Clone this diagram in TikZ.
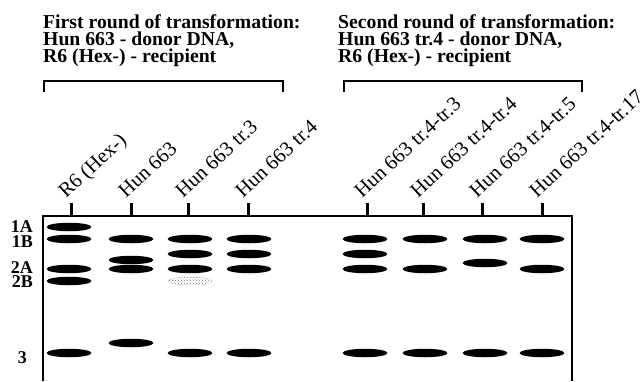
\documentclass[tikz,border=0pt]{standalone}
\usepackage{fontspec}
\setmainfont{Liberation Serif}
\usetikzlibrary{shapes.geometric,patterns}
\tikzset{
  hdr/.style={anchor=base west,inner sep=0pt,font=\fontsize{19.7}{19.7}\selectfont\bfseries},
  rowlab/.style={anchor=base east,inner sep=0pt,font=\fontsize{18}{18}\selectfont\bfseries},
  lanelab/.style={anchor=base west,inner sep=0pt,rotate=43,font=\fontsize{20.5}{20.5}\selectfont},
  band/.style={ellipse,fill=black,inner sep=0pt,minimum width=45pt,minimum height=8.5pt},
  faint/.style={ellipse,inner sep=0pt,minimum width=44pt,minimum height=8pt,pattern=crosshatch dots,pattern color=gray,draw=gray!70,densely dotted,line width=0.5pt},
  bracket/.style={line width=2.8pt},
  gel/.style={line width=2pt},
  tick/.style={line width=3pt}
}
\begin{document}
\begin{tikzpicture}[x=1pt,y=-1pt]
\useasboundingbox (0,0) rectangle (640,381);
% headers
\node[hdr] (h1a) at (43,28) {First round of transformation:};
\node[hdr] (h1b) at (43,45) {Hun 663 - donor DNA,};
\node[hdr] (h1c) at (43,62) {R6 (Hex-) - recipient};
\node[hdr] (h2a) at (338,28) {Second round of transformation:};
\node[hdr] (h2b) at (338,45) {Hun 663 tr.4 - donor DNA,};
\node[hdr] (h2c) at (338,62) {R6 (Hex-) - recipient};
% brackets
\draw[bracket] (44,92) -- (44,81) -- (283,81) -- (283,92);
\draw[bracket] (344,92) -- (344,81) -- (582,81) -- (582,92);
% gel frame
\draw[gel] (43,381) -- (43,216) -- (572,216) -- (572,381);
% ticks and lane labels
\foreach \x/\n/\t in {71/l1/{R6 (Hex-)},131/l2/{Hun 663},188/l3/{Hun 663 tr.3},248/l4/{Hun 663 tr.4},367/l5/{Hun 663 tr.4-tr.3},423/l6/{Hun 663 tr.4-tr.4},482/l7/{Hun 663 tr.4-tr.5},542/l8/{Hun 663 tr.4-tr.17}}{
  \draw[tick] (\x,203) -- (\x,216);
  \node[lanelab] (\n) at (\x-5,199) {\t};
}
% row labels
\node[rowlab] (r1a) at (33,232) {1A};
\node[rowlab] (r1b) at (33,247) {1B};
\node[rowlab] (r2a) at (33,273) {2A};
\node[rowlab] (r2b) at (33,287) {2B};
\node[rowlab] (r3) at (27,363) {3};
% bands
\foreach \x/\ys [count=\i] in {69/{227,239,269,281,353},131/{239,260,269,343},190/{239,254,269,353},249/{239,254,269,353},365/{239,254,269,353},425/{239,269,353},485/{239,263,353},542/{239,269,353}}{
  \foreach \y [count=\j] in \ys {
    \node[band] (b\i-\j) at (\x,\y) {};
  }
}
\node[faint] (bf) at (190,281) {};
\end{tikzpicture}
\end{document}
